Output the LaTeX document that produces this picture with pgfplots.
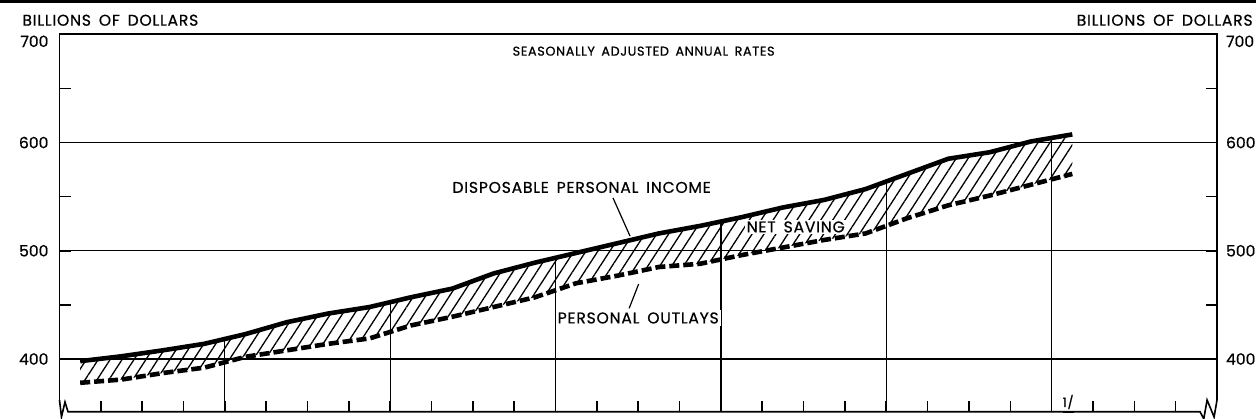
\documentclass[border=0pt]{standalone}
\usepackage{fontspec}
\setmainfont{Poppins}
\newfontfamily\ff[LetterSpace=5,WordSpace=1.6,FakeBold=0.6]{Poppins}
\newfontfamily\fn[FakeBold=0.6]{Poppins}
\usepackage{pgfplots}
\usepackage{pgfplotstable}
\pgfplotsset{compat=1.18}
\usepgfplotslibrary{fillbetween}
\usetikzlibrary{patterns.meta}

\pgfplotstableread{
x    inc    out
0.5  398    378
1.5  402.5  381
2.5  408    387
3.5  414    392
4.5  423    402
5.5  434    408
6.5  442    414
7.5  448    419
8.5  457    431
9.5  465    439
10.5 479    448
11.5 489    457
12.5 498    470
13.5 507    477
14.5 516    485
15.5 523    488
16.5 531    496
17.5 540    503
18.5 547    510
19.5 557    516
20.5 571    530
21.5 585    542
22.5 591    551
23.5 601    561
24.5 607.5  571
}\datatable

\newcommand\lab{\ff\fontsize{7.8bp}{9bp}\selectfont}
\newcommand\num{\fn\fontsize{7.8bp}{9bp}\selectfont}
\newcommand\sub{\ff\fontsize{6.4bp}{8bp}\selectfont}

\begin{document}
\begin{tikzpicture}
\begin{axis}[
  at={(0,0)}, anchor=south west,
  scale only axis, width=578.75bp, height=188.7bp,
  xmin=0, xmax=28, ymin=351.3, ymax=700,
  clip=false,
  axis line style={draw=none},
  xtick={1,...,27}, xticklabels={}, xtick pos=left,
  ytick={400,500,600}, extra y ticks={700},
  extra y tick style={yticklabel style={yshift=-3.5bp}},
  minor ytick={450,550,650},
  ytick pos=both,
  tick align=inside,
  major tick length=5.5bp, minor tick length=5.5bp,
  tick style={black, line width=0.8bp},
  ymajorgrids, grid style={black, line width=0.6bp},
  yticklabel style={font=\num, xshift=-2bp},
  /pgf/number format/assume math mode=true,
]
\addplot[draw=none, name path=inc] table[x=x,y=inc] {\datatable};
\addplot[draw=none, name path=out] table[x=x,y=out] {\datatable};
\addplot[pattern={Lines[angle=57,distance=5bp,line width=0.65bp]}, draw=none] fill between[of=inc and out];

% year lines up to income line
\addplot[black, line width=0.6bp, unbounded coords=jump] coordinates {
 (4,351.3) (4,418) (4,nan)
 (8,351.3) (8,452.5) (8,nan)
 (12,351.3) (12,493.5) (12,nan)
 (16,351.3) (16,527) (16,nan)
 (20,351.3) (20,564) (20,nan)
 (24,351.3) (24,604)
};

\addplot[black, line width=2.3bp, line join=round] table[x=x,y=inc] {\datatable};
\addplot[black, line width=2.3bp, dash pattern=on 5bp off 2bp] table[x=x,y=out] {\datatable};

% frame with scale breaks
\draw[black, line width=0.8bp] (axis cs:0,362.1) -- (axis cs:0,700) -- (axis cs:28,700) -- (axis cs:28,362.1);
\draw[black, line width=0.8bp] (axis cs:0,362.1) -- (axis cs:0.048,346.4) -- (axis cs:0.133,360.3) -- (axis cs:0.206,351.3)
  -- (axis cs:27.59,351.3) -- (axis cs:27.68,344.6) -- (axis cs:27.76,362.1) -- (axis cs:27.93,346.4) -- (axis cs:28,362.1);

% annotations
\node[font=\sub] at (axis cs:14.13,684.4) {SEASONALLY ADJUSTED ANNUAL RATES};
\node[font=\lab] at (axis cs:12.63,558.5) {DISPOSABLE PERSONAL INCOME};
\draw[black, line width=0.6bp] (axis cs:13.39,548.8) -- (axis cs:13.80,513.6);
\node[font=\lab, fill=white, inner sep=0.8bp] at (axis cs:17.81,522) {NET SAVING};
\node[font=\lab, fill=white, inner sep=1bp] at (axis cs:14.0,437.9) {PERSONAL OUTLAYS};
\draw[black, line width=0.6bp] (axis cs:13.78,446.8) -- (axis cs:14.01,469.3);
\node[font=\sub, inner sep=0pt] at (axis cs:24.4,358.4) {\underline{1/}};
\end{axis}

\begin{axis}[
  at={(0,0)}, anchor=south west,
  scale only axis, width=578.75bp, height=188.7bp,
  xmin=0, xmax=28, ymin=351.3, ymax=700,
  hide x axis, axis y line*=right,
  y axis line style={draw=none},
  ytick={400,500,600}, extra y ticks={700},
  extra y tick style={yticklabel style={yshift=-3.5bp}},
  major tick length=0pt,
  yticklabel style={font=\num, xshift=1bp},
  /pgf/number format/assume math mode=true,
]
\addplot[draw=none] coordinates {(1,400)};
\end{axis}

\node[font=\lab, anchor=base west, inner sep=0pt] at (-18.75bp,193bp) {BILLIONS OF DOLLARS};
\node[font=\lab, anchor=base east, inner sep=0pt] at (596.75bp,193bp) {BILLIONS OF DOLLARS};
\fill[black] (-29.75bp,204.35bp) rectangle (598.25bp,205.85bp);

\pgfresetboundingbox
\useasboundingbox (-29.75bp,-3.65bp) rectangle (598.25bp,205.85bp);
\end{tikzpicture}
\end{document}
